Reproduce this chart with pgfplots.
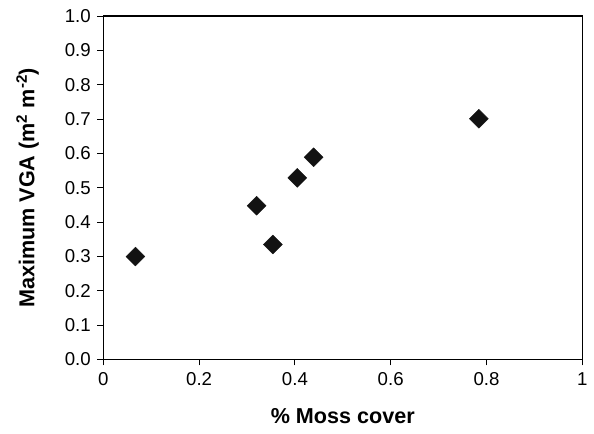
\documentclass[border={10pt 3pt 0pt 3pt}]{standalone}
\usepackage{fontspec}
\setmainfont{Liberation Sans}
\usepackage{pgfplots}
\pgfplotsset{compat=1.18}
\begin{document}
\fontsize{20}{24}\selectfont
\begin{tikzpicture}
\begin{axis}[
    scale only axis,
    width=488pt, height=350pt,
    xmin=0, xmax=1, ymin=0, ymax=1,
    xtick={0,0.2,0.4,0.6,0.8,1},
    xticklabels={0,0.2,0.4,0.6,0.8,1},
    ytick={0,0.1,...,1.0},
    yticklabel style={/pgf/number format/.cd,fixed,fixed zerofill,precision=1},
    /pgf/number format/assume math mode=true,
    tick align=outside,
    tick pos=left,
    major tick length=6pt,
    axis line style={line width=1.2pt},
    every tick/.style={black, line width=1pt},
    tick label style={font=\fontsize{19}{22}\selectfont},
    xlabel={\textbf{\% Moss cover}},
    ylabel={\textbf{Maximum VGA (m\textsuperscript{2} m\textsuperscript{-2})}},
    label style={font=\fontsize{22}{26}\selectfont},
    xlabel style={yshift=-10pt},
    ylabel style={yshift=13pt},
]
\addplot[only marks, mark=square*, mark size=6.8pt,
         mark options={rotate=45, fill=black!93, draw=black!93}]
coordinates {
    (0.067,0.300) (0.320,0.448) (0.354,0.335)
    (0.405,0.529) (0.439,0.589) (0.784,0.701)
};
\end{axis}
\end{tikzpicture}
\end{document}
